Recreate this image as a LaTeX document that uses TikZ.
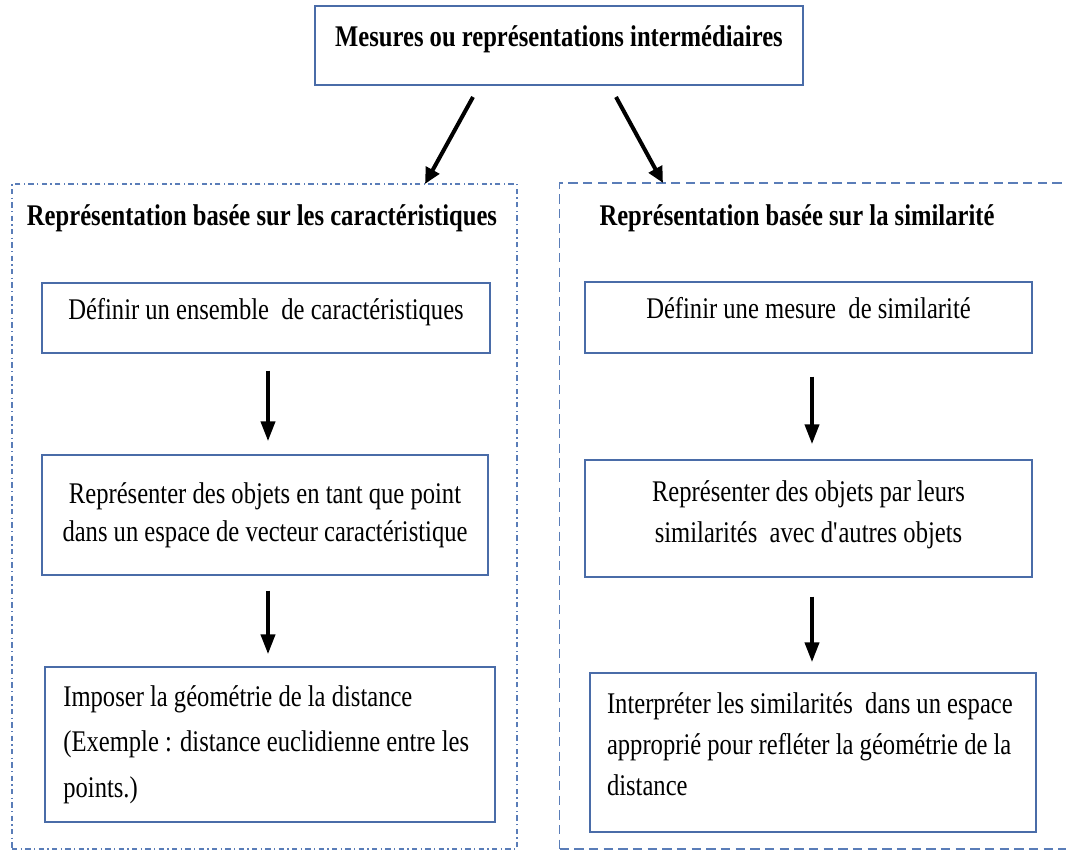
\documentclass[tikz,border=0pt]{standalone}
\usepackage{fontspec}
\setmainfont{Liberation Serif}[FakeStretch=0.82]
\usetikzlibrary{arrows.meta,calc}
\definecolor{boxblue}{HTML}{4A6CA8}
\definecolor{dashblue}{HTML}{5A7DB8}
\tikzset{
  pbox/.style={draw=boxblue, line width=1.1pt, rectangle, inner sep=0pt},
  btext/.style={font=\fontsize{22.5pt}{30.75pt}\selectfont},
  ttl/.style={font=\fontsize{22.5pt}{30pt}\selectfont\bfseries, inner sep=0pt},
  arr/.style={line width=3pt, -{Triangle[length=12pt,width=11pt]}},
  arrv/.style={line width=3pt, -{Triangle[length=15pt,width=10.5pt]}},
  grp1/.style={draw=dashblue, line width=0.8pt, dash pattern=on 4pt off 2.5pt on 1pt off 2.5pt, rectangle, inner sep=0pt},
  grp2/.style={draw=dashblue, line width=1pt, dash pattern=on 7pt off 4pt, rectangle, inner sep=0pt},
}
\begin{document}
\begin{tikzpicture}[x=0.75pt,y=-0.75pt]
\useasboundingbox (0,0) rectangle (1066,850);
% groups
\node[grp1, minimum width=378.75pt, minimum height=498.75pt] (G1) at (264.5,516.5) {};
\node[grp2, minimum width=384pt, minimum height=499.5pt] (G2) at (815.5,516) {};
% top
\node[pbox, minimum width=366pt, minimum height=59.25pt, font=\fontsize{22.5pt}{30pt}\selectfont\bfseries, text depth=14pt] (T) at (559,45.5) {Mesures ou représentations intermédiaires};
% titles
\node[ttl] (t1) at (262,218) {Représentation basée sur les caractéristiques};
\node[ttl] (t2) at (797,218) {Représentation basée sur la similarité};
% left boxes
\node[pbox, btext, minimum width=336pt, minimum height=52.5pt, text depth=14pt] (L1) at (266,318) {Définir un ensemble\ \ de caractéristiques};
\node[pbox, btext, minimum width=334.5pt, minimum height=90pt, align=center, font=\fontsize{22.5pt}{28.5pt}\selectfont] (L2) at (265,515) {Représenter des objets en tant que point\\dans un espace de vecteur caractéristique};
\node[pbox, btext, minimum width=337.5pt, minimum height=116.25pt, text width=310pt, align=flush left, font=\fontsize{22.5pt}{34pt}\selectfont] (L3) at (270,744.5) {Imposer la géométrie de la distance\\(Exemple : distance euclidienne entre les\\points.)};
% right boxes
\node[pbox, btext, minimum width=335.25pt, minimum height=53.25pt, text depth=14pt] (R1) at (808.5,317.5) {Définir une mesure\ \ de similarité};
\node[pbox, btext, minimum width=335.25pt, minimum height=87.75pt, align=center, text depth=10pt] (R2) at (808.5,518.5) {Représenter des objets par leurs\\similarités\ \ avec d\textquotesingle autres objets};
\node[pbox, btext, minimum width=334.5pt, minimum height=119.25pt, text width=309pt, align=flush left] (R3) at (813,752.5) {Interpréter les similarités\ \ dans un espace\\approprié pour refléter la géométrie de la\\distance\\[-18pt]\mbox{}};
% arrows
\coordinate (s1) at (473,97);
\coordinate (e1) at (425,184);
\coordinate (s2) at (616,97);
\coordinate (e2) at (663,183);
\draw[arr] (s1) -- (e1);
\draw[arr] (s2) -- (e2);
\draw[arrv] ($(L1.south)+(2,17)$) -- ($(L2.north)+(3,-13)$);
\draw[arrv] ($(L2.south)+(3,15)$) -- ($(L3.north)+(-2,-12)$);
\draw[arrv] ($(R1.south)+(3.5,23)$) -- ($(R2.north)+(3.5,-15)$);
\draw[arrv] ($(R2.south)+(3.5,19)$) -- ($(R3.north)+(-1,-10)$);
\end{tikzpicture}
\end{document}
